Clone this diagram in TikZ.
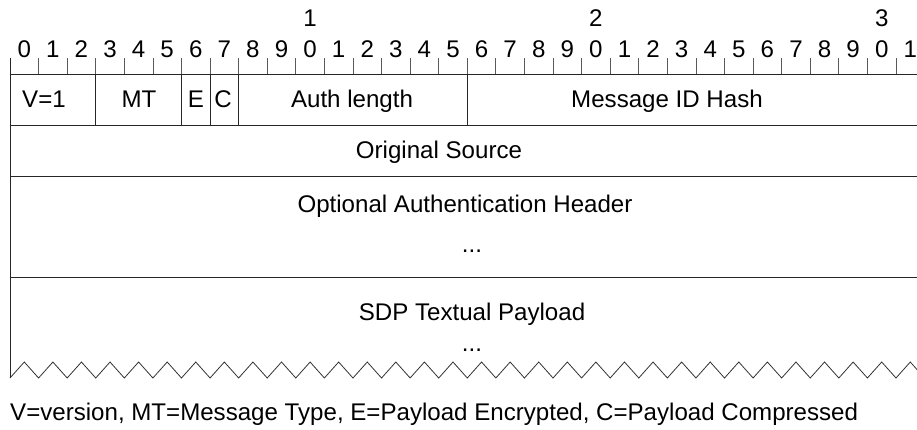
\documentclass[tikz,border=0pt]{standalone}
\usepackage{fontspec}
\setmainfont{Liberation Sans}
\begin{document}
\begin{tikzpicture}[x=1pt,y=-1pt,
  rule/.style={line width=0.9pt, draw=black!85},
  tickmark/.style={line width=0.8pt, draw=black!65},
  lbl/.style={anchor=base, inner sep=0pt, font=\fontsize{24.1}{29}\selectfont},
]
\def\bw{28.58}
\useasboundingbox (0,0) rectangle (917,429);
\clip (0,0) rectangle (917,429);

% bit ruler
\foreach \i in {0,...,32}
  \draw[tickmark] ({10+\bw*\i},58.3) -- ({10+\bw*\i},74);
\foreach \i in {0,...,31} {
  \pgfmathtruncatemacro\d{mod(\i,10)}
  \node[lbl] (bit\i) at ({10+\bw*(\i+0.5)},57) {\d};
}
\node[lbl] (ten1) at ({10+\bw*10.5},26) {1};
\node[lbl] (ten2) at ({10+\bw*20.5},26) {2};
\node[lbl] (ten3) at ({10+\bw*30.5},26) {3};

% word boundaries
\foreach \y in {74,125,176,277}
  \draw[rule] (10,\y) -- ({10+\bw*32},\y);
\draw[rule] (10,58.3) -- (10,378);
\foreach \b in {3,6,7,8,16}
  \draw[rule] ({10+\bw*\b},74) -- ({10+\bw*\b},125);

% torn edge of the payload
\draw[line width=0.8pt, draw=black!80] (10,378)
  \foreach \i in {0,...,31} { -- ({10+\bw*(\i+0.5)},362) -- ({10+\bw*(\i+1)},378) };

% field names
\node[lbl] (ver)  at (44,107)  {V=1};
\node[lbl] (mt)   at (139,107) {MT};
\node[lbl] (enc)  at (196,107) {E};
\node[lbl] (cmp)  at (223,107) {C};
\node[lbl] (alen) at (352,107) {Auth length};
\node[lbl] (hash) at (667,107) {Message ID Hash};
\node[lbl] (src)  at (439,158) {Original Source};
\node[lbl] (auth) at (465,212) {Optional Authentication Header};
\node[lbl] (authmore) at (472,252) {...};
\node[lbl] (sdp)  at (472,320) {SDP Textual Payload};
\node[lbl] (sdpmore) at (472,351.7) {...};

% legend
\node[lbl, anchor=base west] (legend) at (10,420)
  {V=version, MT=Message Type, E=Payload Encrypted, C=Payload Compressed};
\end{tikzpicture}
\end{document}
